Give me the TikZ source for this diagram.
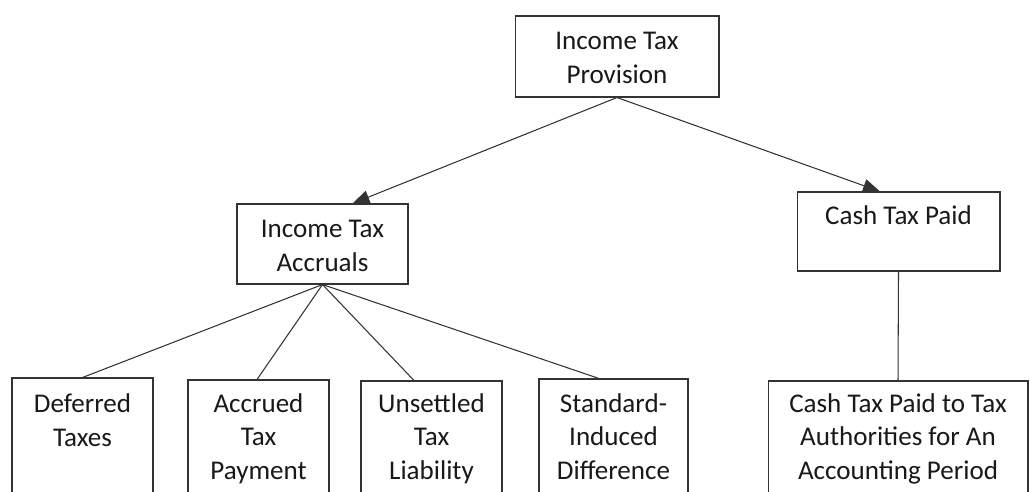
\documentclass[tikz,border=0pt]{standalone}
\usepackage{fontspec}
\setmainfont{Carlito}
\usetikzlibrary{arrows.meta}
\usetikzlibrary{positioning}
\tikzset{box/.style = {draw=black!80, line width=0.6pt, rectangle, inner sep=0pt},
         lbl/.style = {align=center, anchor=base, inner sep=0pt, text=black!90,
                       font=\fontsize{15.4}{18.8}\selectfont},
         link/.style = {draw=black!80, line width=0.6pt},
         arr/.style = {link, -{Triangle[length=0.34cm, width=0.27cm]}}}

\begin{document}
\begin{tikzpicture}[x=0.02cm, y=-0.02cm]
      \useasboundingbox (0, 0) rectangle (1030, 491);
      \clip (0, 0) rectangle (1030, 491);

      % the base anchor sits on the last line of each label
      \node [box, minimum width=4.08cm, minimum height=1.62cm] (prov) at (617, 56.5) {};
      \node [lbl] (provt) at (617, 83) {Income Tax\\Provision};

      \node [box, minimum width=3.42cm, minimum height=1.6cm] (accr) at (322.5, 244) {};
      \node [lbl] (accrt) at (322.5, 271) {Income Tax\\Accruals};

      \node [box, minimum width=4.06cm, minimum height=1.58cm] (cash) at (898.5, 231.5) {};
      \node [lbl] (casht) at (898.5, 224) {Cash Tax Paid};

      \node [box, minimum width=2.82cm, minimum height=2.8cm] (def) at (82.5, 448) {};
      \node [lbl] (deft) at (82.5, 446) {Deferred\\Taxes};
      \node [box, minimum width=2.82cm, minimum height=2.8cm] (acc) at (258.5, 450) {};
      \node [lbl] (acct) at (258.5, 479) {Accrued\\Tax\\Payment};
      \node [box, minimum width=2.82cm, minimum height=2.8cm] (uns) at (431.5, 451) {};
      \node [lbl] (unst) at (431.5, 479) {Unsettled\\Tax\\Liability};
      \node [box, minimum width=2.98cm, minimum height=2.8cm] (std) at (613.5, 449) {};
      \node [lbl] (stdt) at (613.5, 479) {Standard-\\Induced\\Difference};
      \node [box, minimum width=5.2cm, minimum height=2.8cm] (ctp) at (898, 451) {};
      \node [lbl] (ctpt) at (898, 479) {Cash Tax Paid to Tax\\Authorities for An\\Accounting Period};

      \draw [arr] (prov.south) -- ([xshift=0.6cm]accr.north);
      \draw [arr] (prov.south) -- ([xshift=-0.37cm]cash.north);

      \draw [link] (accr.south) -- (def.north);
      \draw [link] (accr.south) -- ([xshift=-0.03cm]acc.north);
      \draw [link] (accr.south) -- ([xshift=-0.35cm]uns.north);
      \draw [link] (accr.south) -- ([xshift=-0.29cm]std.north);
      \draw [link] (cash.south) -- (ctp.north);
    \end{tikzpicture}
\end{document}
